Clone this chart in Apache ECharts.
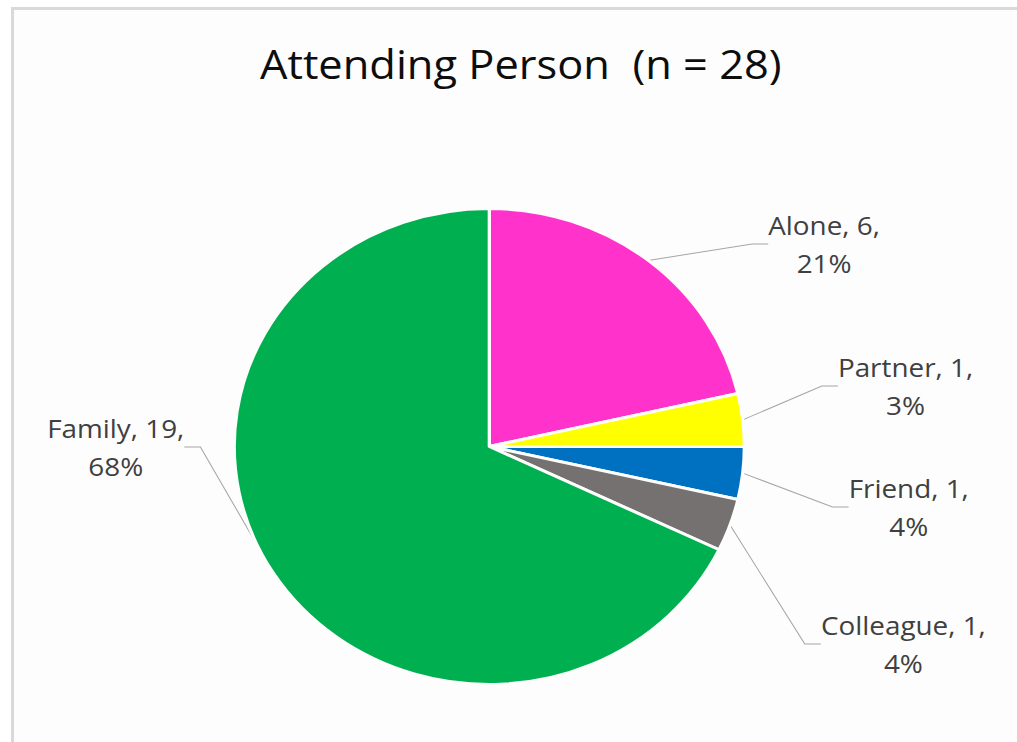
<!DOCTYPE html>
<html>
<head>
<meta charset="utf-8">
<script src="https://cdn.jsdelivr.net/npm/echarts@6/dist/echarts.min.js"></script>
<style>
  html, body { margin: 0; padding: 0; background: #ffffff; overflow: hidden; }
  #wrap { position: relative; width: 1017px; height: 742px; background: #ffffff; overflow: hidden; }
  #frame { position: absolute; left: 11px; top: 7px; width: 1006px; height: 735px;
           border-left: 3px solid #D9D9D9; border-top: 3px solid #D9D9D9; background: #FDFDFD; }
  #chart { position: absolute; left: 0; top: 0; width: 949px; height: 742px;
           transform: scaleX(1.0716); transform-origin: 0 0; }
</style>
</head>
<body>
<div id="wrap">
  <div id="frame"></div>
  <div id="chart"></div>
</div>
<script>
const titleText = 'Attending Person  (n = 28)';
const categories = ['Alone', 'Partner', 'Friend', 'Colleague', 'Family'];
const counts = [6, 1, 1, 1, 19];
const percentLabels = ['21%', '3%', '4%', '4%', '68%'];
const sliceColors = ['#FF33CC', '#FFFF00', '#0070C0', '#767171', '#00B050'];
// label block centres in chart (unstretched) coordinates, layout only
const labelPos = [[769, 244], [845, 386], [848, 507], [843, 644], [108, 447]];

const chart = echarts.init(document.getElementById('chart'), null, { renderer: 'svg' });
const FONT = '"Open Sans"';

chart.setOption({
  backgroundColor: 'transparent',
  animation: false,
  title: {
    text: titleText,
    left: 481, top: 38,
    textAlign: 'center',
    textStyle: { fontFamily: FONT, fontSize: 40.5, fontWeight: 'normal', color: '#0D0D0D' }
  },
  series: [{
    type: 'pie',
    center: [456.6, 446.5],
    radius: 238,
    startAngle: 90,
    clockwise: true,
    data: categories.map((c, i) => ({ name: c, value: counts[i], itemStyle: { color: sliceColors[i] } })),
    itemStyle: { borderColor: '#FDFDFD', borderWidth: 3 },
    label: {
      show: true,
      position: 'outside',
      formatter: p => p.name + ', ' + p.value + ',\n' + percentLabels[p.dataIndex],
      fontFamily: FONT,
      fontSize: 26,
      lineHeight: 38,
      color: '#404040',
      align: 'center'
    },
    labelLine: {
      show: true,
      length: 20,
      length2: 15,
      lineStyle: { color: '#A6A6A6', width: 1 }
    },
    labelLayout: function (params) {
      const p = labelPos[params.dataIndex];
      return { x: p[0], y: p[1], align: 'center', verticalAlign: 'middle' };
    },
    emphasis: { disabled: true }
  }]
});
</script>
</body>
</html>
